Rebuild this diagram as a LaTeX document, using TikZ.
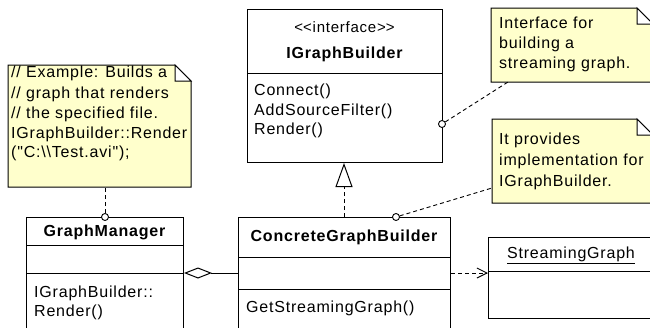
\documentclass[tikz,border=0pt]{standalone}
\usepackage{fontspec}
\newfontfamily\umlfont{Liberation Sans}[LetterSpace=5]
\usetikzlibrary{arrows.meta}
\definecolor{notey}{RGB}{255,255,204}
\begin{document}
\begin{tikzpicture}[x=1pt,y=-1pt,
  box/.style={draw, line width=1pt, fill=white, inner sep=0pt, anchor=north west},
  notebody/.style={draw, line width=1pt, fill=notey},
  fold/.style={draw, line width=1pt, fill=white},
  txt/.style={inner sep=0pt, anchor=base west, font=\umlfont\fontsize{16}{19}\selectfont},
  ttl/.style={inner sep=0pt, anchor=base, font=\umlfont\fontsize{16}{19}\selectfont\bfseries},
  link/.style={line width=0.9pt, dash pattern=on 4pt off 3pt},
  knob/.style={draw, line width=0.9pt, fill=white, circle, inner sep=0pt, minimum size=7pt},
  area/.style={inner sep=0pt, anchor=north west},
]
\useasboundingbox (0,0) rectangle (650,327);
\clip (0,0) rectangle (650,327);

% ---------- notes ----------
\node[area, minimum width=183pt, minimum height=122pt] (noteA) at (8,65) {};
\draw[notebody] (8,65) -- (175,65) -- (191,81) -- (191,187) -- (8,187) -- cycle;
\draw[fold] (175,65) -- (175,81) -- (191,81) -- cycle;
\node[txt] (a1) at (11,77) {// Example: Builds a};
\node[txt] (a2) at (11,98) {// graph that renders};
\node[txt] (a3) at (11,118) {// the specified file.};
\node[txt] (a4) at (11,138) {IGraphBuilder::Render};
\node[txt] (a5) at (11,157) {("C:\textbackslash\textbackslash Test.avi");};

\node[area, minimum width=162pt, minimum height=74pt] (noteB) at (491,8) {};
\draw[notebody] (491,8) -- (637,8) -- (653,24) -- (653,82) -- (491,82) -- cycle;
\draw[fold] (637,8) -- (637,24) -- (653,24) -- cycle;
\node[txt] (b1) at (499,28) {Interface for};
\node[txt] (b2) at (499,48) {building a};
\node[txt] (b3) at (499,68) {streaming graph.};

\node[area, minimum width=161pt, minimum height=84pt] (noteC) at (492,119) {};
\draw[notebody] (492,119) -- (637,119) -- (653,135) -- (653,203) -- (492,203) -- cycle;
\draw[fold] (637,119) -- (637,135) -- (653,135) -- cycle;
\node[txt] (c1) at (499,144) {It provides};
\node[txt] (c2) at (499,165) {implementation for};
\node[txt] (c3) at (499,186) {IGraphBuilder.};

% ---------- classes ----------
\node[box, minimum width=195pt, minimum height=153pt] (igb) at (247,9) {};
\draw[line width=1pt] (247,73) -- (442,73);
\node[inner sep=0pt, anchor=base, font=\umlfont\fontsize{15}{18}\selectfont] (igbst) at (344.5,32) {<\kern0pt<interface>\kern0pt>};
\node[ttl] (igbname) at (344.5,58) {IGraphBuilder};
\node[txt] (m1) at (254,95.5) {Connect()};
\node[txt] (m2) at (254,115) {AddSourceFilter()};
\node[txt] (m3) at (254,134.5) {Render()};

\node[box, minimum width=212pt, minimum height=125pt] (cgb) at (238,217) {};
\draw[line width=1pt] (238,257) -- (450,257);
\draw[line width=1pt] (238,289) -- (450,289);
\node[ttl] (cgbname) at (344,241.5) {ConcreteGraphBuilder};
\node[txt] (m4) at (246,312) {GetStreamingGraph()};

\node[box, minimum width=157pt, minimum height=125pt] (gm) at (26,217) {};
\draw[line width=1pt] (26,245) -- (183,245);
\draw[line width=1pt] (26,273) -- (183,273);
\node[ttl] (gmname) at (104.5,236) {GraphManager};
\node[txt] (m5) at (34,297) {IGraphBuilder::};
\node[txt] (m6) at (34,316.5) {Render()};

\node[box, minimum width=200pt, minimum height=81pt] (sg) at (488,237) {};
\draw[line width=1pt] (488,271) -- (688,271);
\node[inner sep=0pt, anchor=base, font=\umlfont\fontsize{16}{19}\selectfont] (sgname) at (571,258) {\underline{StreamingGraph}};

% ---------- connectors ----------
\draw[link, -{Triangle[open, length=24pt, width=17pt, line width=1pt]}]
  (cgb.north -| 344,0) -- (igb.south -| 344,0);
\draw[line width=1pt, -{Diamond[open, length=28pt, width=11pt, line width=1pt]}]
  (cgb.west |- 0,273) -- (gm.east |- 0,273);
\draw[link, -{Straight Barb[length=10pt, width=10pt, line width=1pt]}]
  (cgb.east |- 0,273) -- (sg.west |- 0,273);

\node[knob] (kA) at (105,217) {};
\draw[link] (kA) -- (kA |- noteA.south);
\node[knob] (kB) at (442,124) {};
\coordinate (eB) at (508,82);
\draw[link] (kB) -- (eB);
\node[knob] (kC) at (396,217) {};
\coordinate (eC) at (492,188);
\draw[link] (kC) -- (eC);
\end{tikzpicture}
\end{document}
